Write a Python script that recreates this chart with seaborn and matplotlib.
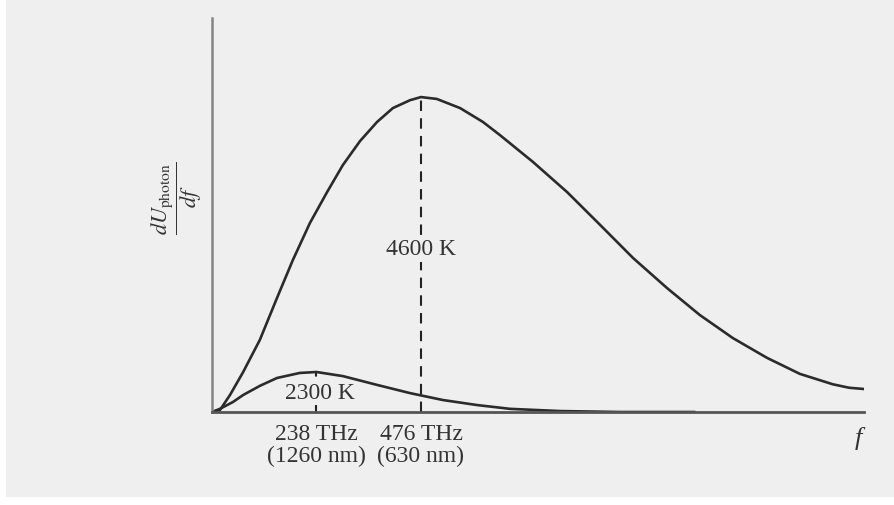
import numpy as np
import pandas as pd
import matplotlib
matplotlib.use("Agg")
import matplotlib.pyplot as plt
from matplotlib.patches import Rectangle
import seaborn as sns

# ================= DATA =================
# frequency in THz, spectrum in arbitrary units (4600 K peak = 1)
freq_4600 = [0, 18, 41, 71, 109, 148, 184, 223, 262, 298, 337, 376, 412, 451,
             476, 512, 565, 617, 656, 731, 809, 884, 959, 1036, 1111, 1186,
             1264, 1339, 1414, 1451, 1485]
u_4600 = [0.0, 0.006, 0.054, 0.127, 0.229, 0.362, 0.482, 0.600, 0.698, 0.784,
          0.860, 0.921, 0.965, 0.990, 1.0, 0.994, 0.965, 0.921, 0.879, 0.794,
          0.698, 0.594, 0.489, 0.394, 0.308, 0.235, 0.172, 0.121, 0.088,
          0.077, 0.073]

freq_2300 = [0, 18, 48, 71, 109, 148, 200, 238, 298, 376, 451, 526, 604, 679,
             793, 929, 1100]
u_2300 = [0.0, 0.010, 0.032, 0.054, 0.083, 0.108, 0.124, 0.127, 0.114, 0.086,
          0.060, 0.038, 0.022, 0.010, 0.003, 0.0, 0.0]

temps = ["4600 K", "2300 K"]
peak_freqs = [476, 238]
tick_labels = ["476 THz\n(630 nm)", "238 THz\n(1260 nm)"]

# ================= FRAME =================
df = pd.concat([
    pd.DataFrame({"f": freq_4600, "u": u_4600, "T": temps[0]}),
    pd.DataFrame({"f": freq_2300, "u": u_2300, "T": temps[1]}),
])

bg = "#efefef"
sns.set_style("white")
plt.rcParams["font.family"] = ["Liberation Serif", "DejaVu Serif"]
plt.rcParams["mathtext.fontset"] = "stix"

fig = plt.figure(figsize=(8.94, 5.05), dpi=100, facecolor="white")
fig.patches.append(Rectangle((6 / 894, 8 / 505), 1, 1, transform=fig.transFigure,
                             facecolor=bg, edgecolor="none", zorder=-10))
ax = fig.add_axes([212 / 894, 93 / 505, 652 / 894, 394 / 505])
ax.patch.set_alpha(0)

sns.lineplot(data=df, x="f", y="u", hue="T", palette=["#2b2b2b", "#2b2b2b"],
             linewidth=1.9, legend=False, ax=ax, sort=False)

# dashed lines at the peaks
peaks = [max(u_4600), max(u_2300)]
for fx, py in zip(peak_freqs, peaks):
    ax.plot([fx, fx], [0, py], color="#222222", lw=1.5, ls=(0, (5, 3.5)), zorder=1)

ax.set_xlim(0, 1485)
ax.set_ylim(0, 1.251)

for s in ["top", "right"]:
    ax.spines[s].set_visible(False)
ax.spines["left"].set_color("#858585")
ax.spines["left"].set_linewidth(1.8)
ax.spines["bottom"].set_color("#555555")
ax.spines["bottom"].set_linewidth(2)

ax.set_yticks([])
ax.set_xticks(peak_freqs)
ax.set_xticklabels(tick_labels, fontsize=17, color="#333333")
ax.tick_params(axis="x", length=0, pad=9)
for lbl in ax.get_xticklabels():
    lbl.set_linespacing(1.05)
ax.set_xlabel("")
ax.set_ylabel("")

# temperature labels
box = dict(facecolor=bg, edgecolor="none", pad=1)
ax.text(peak_freqs[0], 0.515, temps[0], ha="center", va="center",
        fontsize=17, color="#333333", bbox=box, zorder=3)
ax.text(peak_freqs[1] + 8, 0.060, temps[1], ha="center", va="center",
        fontsize=17, color="#333333", bbox=box, zorder=3)

# axis labels
ax.text(0.991, -0.066, "f", transform=ax.transAxes, ha="center", va="center",
        fontsize=19, style="italic", color="#333333")
fig.text(177 / 894, 1 - 198 / 505, r"$\dfrac{dU_{\rm photon}}{df}$",
         rotation=90, ha="center", va="center", fontsize=16, color="#333333")

fig.savefig("out.png", dpi=100, facecolor=fig.get_facecolor())
